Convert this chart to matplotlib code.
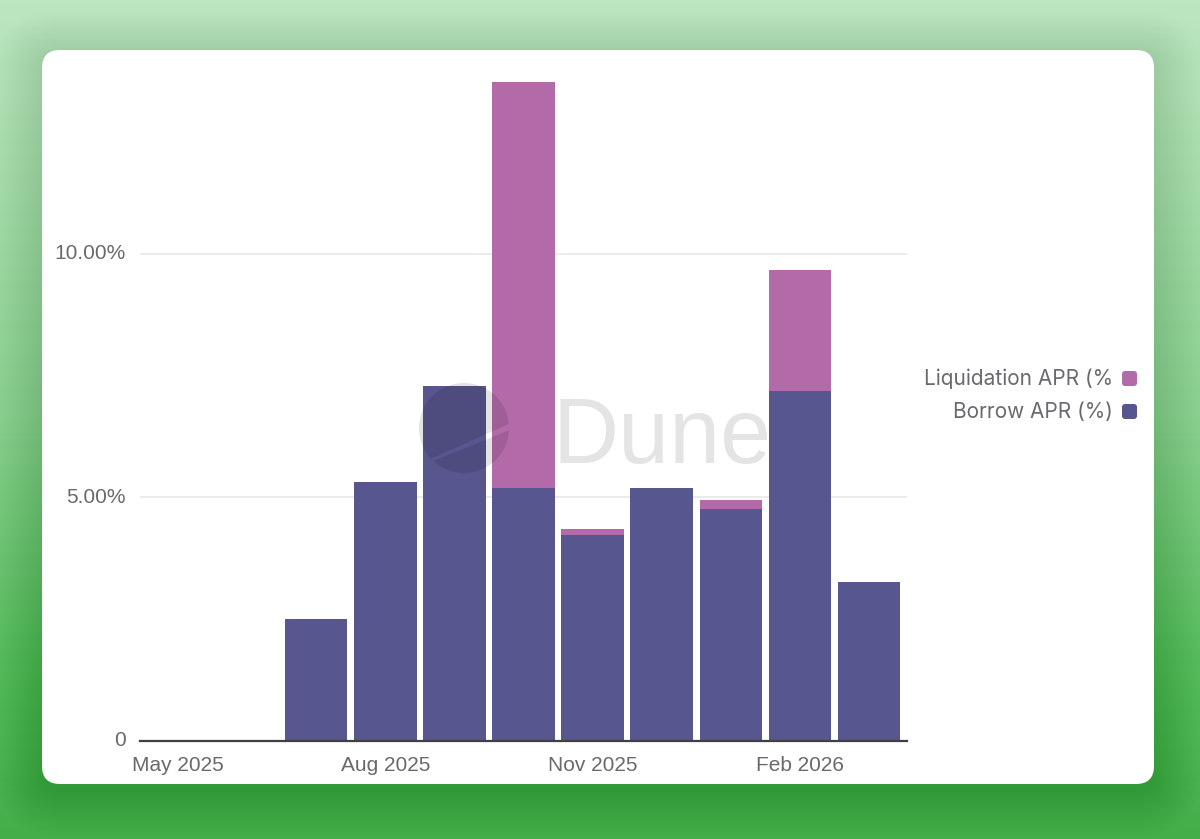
import numpy as np
import matplotlib
matplotlib.use('Agg')
import matplotlib.pyplot as plt
from matplotlib.patches import FancyBboxPatch, Polygon, Rectangle
from matplotlib.colors import LinearSegmentedColormap

plt.rcParams['font.family'] = ['Liberation Sans', 'DejaVu Sans']

months = ['May 2025', 'Jun 2025', 'Jul 2025', 'Aug 2025', 'Sep 2025', 'Oct 2025',
          'Nov 2025', 'Dec 2025', 'Jan 2026', 'Feb 2026', 'Mar 2026']
borrow_apr = [0, 0, 2.50, 5.32, 7.29, 5.20, 4.23, 5.20, 4.76, 7.19, 3.26]
liquidation_apr = [0, 0, 0, 0, 0, 8.33, 0.12, 0, 0.19, 2.48, 0]
y_ticks = [0, 5, 10]
y_tick_labels = ['0', '5.00%', '10.00%']
x_ticks = [0, 3, 6, 9]
legend_names = ['Liquidation APR (%)', 'Borrow APR (%)']

W, H = 1200, 839
BORROW = '#58568f'
LIQ = '#b36aa8'
TEXT = '#69696e'

fig = plt.figure(figsize=(W / 100, H / 100), dpi=100)

# backdrop: green gradient, soft shadow, white card (pixel coords)
bg = fig.add_axes([0, 0, 1, 1])
bg.axis('off')
cmap = LinearSegmentedColormap.from_list('bg', [(0, '#bce6c0'), (0.5, '#8ad08f'), (0.8, '#55bb5b'), (1, '#44ae49')])
bg.imshow(np.linspace(0, 1, 256).reshape(-1, 1), cmap=cmap, aspect='auto', extent=(0, W, H, 0), zorder=0)
bg.set_xlim(0, W)
bg.set_ylim(H, 0)

for grow in range(46, 0, -2):
    bg.add_patch(FancyBboxPatch((42 - grow, 50 - grow + 6), 1112 + 2 * grow, 734 + 2 * grow,
                                boxstyle='round,pad=0,rounding_size=%d' % (18 + grow),
                                fc='black', ec='none', alpha=0.005, zorder=1))
bg.add_patch(FancyBboxPatch((42, 50), 1112, 734, boxstyle='round,pad=0,rounding_size=18',
                            fc='white', ec='none', zorder=2))

# chart
ax = fig.add_axes([140 / W, 1 - 741 / H, 767 / W, 682 / H])
ax.patch.set_alpha(0)
x = np.arange(len(months))
borrow = np.array(borrow_apr)
liq = np.array(liquidation_apr)
ax.bar(x, borrow, width=0.905, color=BORROW, zorder=3)
ax.bar(x, liq, width=0.905, bottom=borrow, color=LIQ, zorder=3)
ax.set_xlim(-0.55, 10.55)
ax.set_ylim(0, 14)
ax.set_yticks(y_ticks)
ax.set_yticklabels(y_tick_labels, va='center')
ax.set_xticks(x_ticks)
ax.set_xticklabels([months[i] for i in x_ticks])
ax.grid(axis='y', color='#e9e9e9', lw=1.3, zorder=1)
ax.tick_params(axis='both', length=0, labelsize=15, labelcolor=TEXT)
ax.tick_params(axis='x', pad=11)
ax.tick_params(axis='y', pad=10)
for side in ['top', 'right', 'left']:
    ax.spines[side].set_visible(False)
ax.spines['bottom'].set_color('#3f3f44')
ax.spines['bottom'].set_linewidth(1.6)
ax.spines['bottom'].set_zorder(4)

# watermark and legend on top
top = fig.add_axes([0, 0, 1, 1])
top.set_xlim(0, W)
top.set_ylim(H, 0)
top.axis('off')
cx, cy, rad = 464, 428, 45
a1 = np.radians(np.linspace(5, 223, 60))
a2 = np.radians(np.linspace(227, 357, 40))
top.add_patch(Polygon(np.c_[cx + rad * np.cos(a1), cy - rad * np.sin(a1)], fc='black', ec='none', alpha=0.11))
top.add_patch(Polygon(np.c_[cx + rad * np.cos(a2), cy - rad * np.sin(a2)], fc='black', ec='none', alpha=0.11))
top.text(553, 463, 'Dune', fontsize=66, color='#000000', alpha=0.105, va='baseline', ha='left')

# long legend name is cut off at the right edge
clip = Rectangle((0, 0), 1113, H, transform=top.transData)
legend_colors = [LIQ, BORROW]
legend_right = [1121, 1113]
for name, color, right, ly in zip(legend_names, legend_colors, legend_right, [378, 411]):
    t = top.text(right, ly + 1, name, ha='right', va='center', fontsize=15, color=TEXT,
                 family=['Inter', 'DejaVu Sans'])
    t.set_clip_path(clip)
    t.set_clip_on(True)
    top.add_patch(FancyBboxPatch((1122, ly - 7), 15, 15, boxstyle='round,pad=0,rounding_size=3', fc=color, ec='none'))

fig.savefig('out.png', dpi=100)
